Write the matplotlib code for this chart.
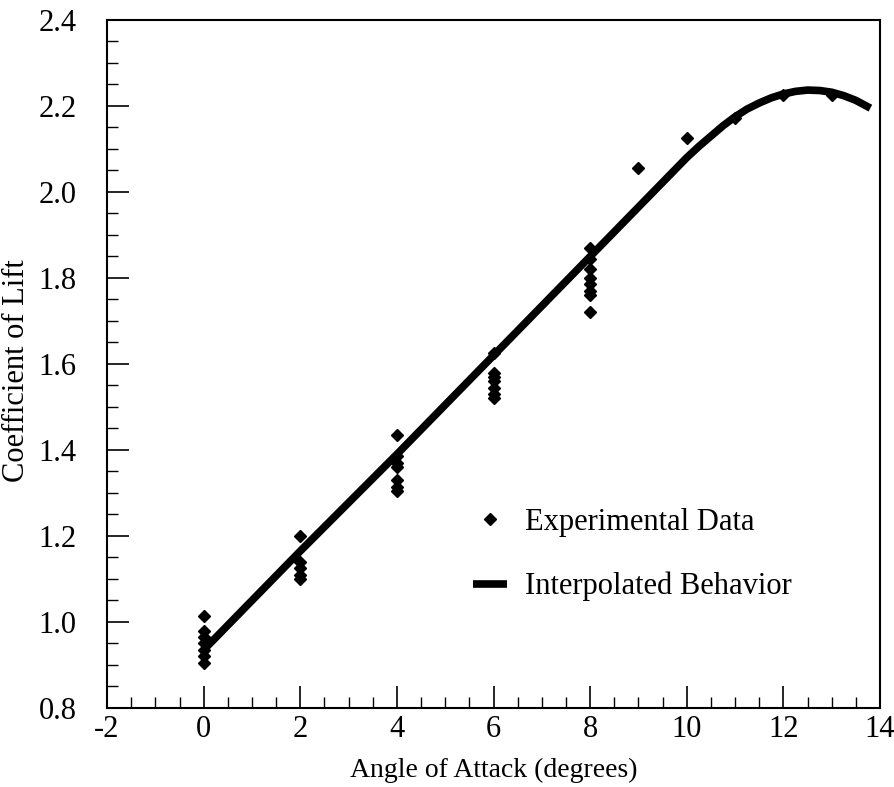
import matplotlib

matplotlib.use("Agg")
import matplotlib.pyplot as plt  # noqa: E402
from matplotlib.ticker import MultipleLocator  # noqa: E402

# experimental lift data (angle of attack in degrees, lift coefficient)
exp_alpha = [0] * 7 + [2] * 5 + [4] * 7 + [6] * 7 + [8] * 8 + [9, 10, 11, 12, 13]
exp_cl = [
    1.015, 0.98, 0.965, 0.95, 0.935, 0.92, 0.905,
    1.20, 1.14, 1.125, 1.11, 1.10,
    1.435, 1.385, 1.37, 1.36, 1.33, 1.315, 1.305,
    1.625, 1.58, 1.57, 1.56, 1.545, 1.53, 1.52,
    1.87, 1.845, 1.82, 1.80, 1.785, 1.77, 1.76, 1.72,
    2.055, 2.125, 2.172, 2.225, 2.225,
]

# interpolated curve
fit_alpha = [0, 2, 4, 6, 8, 10, 10.25, 10.5, 10.75, 11, 11.25, 11.5, 11.75,
             12, 12.25, 12.5, 12.75, 13, 13.25, 13.5, 13.8]
fit_cl = [0.935, 1.165, 1.39, 1.62, 1.85, 2.08, 2.106, 2.13, 2.154, 2.175,
          2.193, 2.207, 2.219, 2.228, 2.234, 2.237, 2.236, 2.232, 2.224,
          2.213, 2.195]

plt.rcParams["font.family"] = ["Liberation Serif", "DejaVu Serif"]

fig = plt.figure(figsize=(8.95, 7.87), dpi=100)
ax = fig.add_axes([0.1196, 0.1004, 0.8637, 0.8742])

ax.plot(exp_alpha, exp_cl, linestyle="none", marker="D", markersize=6.5,
        color="black", label="Experimental Data", zorder=3)
ax.plot(fit_alpha, fit_cl, color="black", linewidth=5.5,
        solid_capstyle="butt", solid_joinstyle="round",
        label="Interpolated Behavior", zorder=2)

ax.set_xlim(-2, 14)
ax.set_ylim(0.8, 2.4)
ax.xaxis.set_minor_locator(MultipleLocator(0.5))
ax.yaxis.set_minor_locator(MultipleLocator(0.05))
ax.set_xticks(range(-2, 15, 2))
ax.set_xticklabels([f"{v:d}" for v in range(-2, 15, 2)])
ax.set_yticks([0.8 + 0.2 * i for i in range(9)])
ax.set_yticklabels([f"{0.8 + 0.2 * i:.1f}" for i in range(9)])
ax.tick_params(which="major", direction="in", length=16, width=1.2,
               labelsize=22)
ax.tick_params(axis="x", which="major", pad=5)
ax.tick_params(axis="y", which="major", pad=22)
ax.tick_params(which="minor", direction="in", length=8, width=1.0)
for sp in ax.spines.values():
    sp.set_linewidth(1.5)

ax.set_xlabel("Angle of Attack (degrees)", fontsize=20, labelpad=10)
ax.set_ylabel("Coefficient of Lift", fontsize=22)
ax.yaxis.set_label_coords(-0.098, 0.49)

ax.legend(loc="lower left", bbox_to_anchor=(0.438, 0.115), frameon=False,
          fontsize=22, handlelength=1.1, labelspacing=1.15, handletextpad=0.6)

fig.savefig("out.png", dpi=100)
